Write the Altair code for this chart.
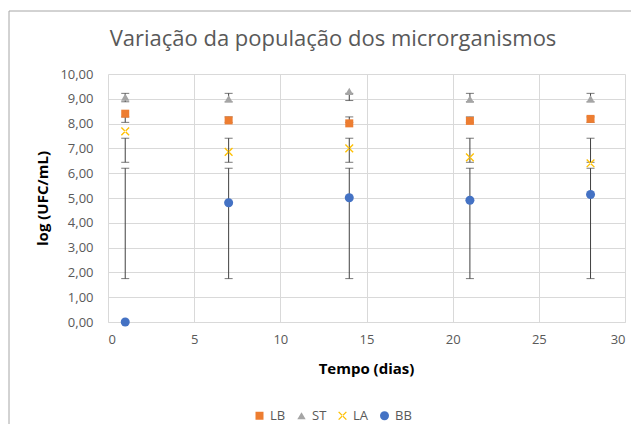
import altair as alt
import pandas as pd

# ---- data ----
days = [1, 7, 14, 21, 28]
series_names = ["LB", "ST", "LA", "BB"]
LB = [8.40, 8.13, 8.01, 8.11, 8.19]
ST = [9.07, 9.00, 9.30, 8.99, 9.00]
LA = [7.69, 6.86, 7.00, 6.64, 6.40]
BB = [0.00, 4.81, 5.01, 4.91, 5.14]

# error bar limits (low, high) per series
LB_lo = [8.05, 8.05, 8.05, 8.05, 8.05]
LB_hi = [8.27, 8.27, 8.27, 8.27, 8.27]
ST_lo = [8.88, 8.88, 8.93, 8.88, 8.88]
ST_hi = [9.22, 9.22, 9.22, 9.22, 9.22]
LA_lo = [6.44, 6.44, 6.44, 6.44, 6.44]
LA_hi = [7.41, 7.41, 7.41, 7.41, 7.41]
BB_lo = [1.75, 1.75, 1.75, 1.75, 1.75]
BB_hi = [6.20, 6.20, 6.20, 6.20, 6.20]

x_ticks = [0, 5, 10, 15, 20, 25, 30]
y_ticks = [0, 1, 2, 3, 4, 5, 6, 7, 8, 9, 10]

chart_title = "Variação da população dos microrganismos"

colors = ["#ED7D31", "#A5A5A5", "#FFC000", "#4472C4"]
XPATH = ("M-1,-0.78L-0.78,-1L1,0.78L0.78,1Z "
         "M1,-0.78L0.78,-1L-1,0.78L-0.78,1Z")
shapes = ["square", "triangle-up", XPATH, "circle"]
sizes = [64, 81, 100, 100]

vals = {"LB": LB, "ST": ST, "LA": LA, "BB": BB}
los = {"LB": LB_lo, "ST": ST_lo, "LA": LA_lo, "BB": BB_lo}
his = {"LB": LB_hi, "ST": ST_hi, "LA": LA_hi, "BB": BB_hi}

rows = []
for s in series_names:
    for i, d in enumerate(days):
        rows.append({"day": d, "series": s, "value": vals[s][i],
                     "lo": los[s][i], "hi": his[s][i]})
df = pd.DataFrame(rows)

label_color = "#595959"
grid_color = "#d9d9d9"
font = "Open Sans"

x_axis = alt.Axis(values=x_ticks, title="Tempo (dias)", grid=True,
                  gridColor=grid_color, domainColor=grid_color,
                  ticks=False, labelColor=label_color,
                  labelFontSize=13, labelFont=font, labelPadding=11,
                  labelOverlap=False,
                  titleFont=font, titleFontSize=15, titleFontWeight="bold",
                  titleColor="#000000", titleX=258, titleY=46,
                  titleBaseline="middle")
y_axis = alt.Axis(values=y_ticks, title="log (UFC/mL)", grid=True,
                  gridColor=grid_color, domain=False, ticks=False,
                  labelColor=label_color, labelFontSize=13, labelFont=font,
                  labelPadding=15, labelOverlap=False,
                  labelExpr="replace(format(datum.value, '.2f'), '.', ',')",
                  titleFont=font, titleFontSize=15, titleFontWeight="bold",
                  titleColor="#000000", titleAngle=-90, titleX=-66, titleY=124,
                  titleBaseline="middle", titleAlign="center")
x_scale = alt.Scale(domain=[0, 30], nice=False)
y_scale = alt.Scale(domain=[0, 10], nice=False)

X = alt.X("day:Q", scale=x_scale, axis=x_axis)

base = alt.Chart(df)
one = "datum.series == 'LB' && datum.day == 1"

frame = base.mark_rect(fillOpacity=0, stroke="#a6a6a6", strokeWidth=1).encode(
    x=alt.value(-99), x2=alt.value(540), y=alt.value(-63), y2=alt.value(420)
).transform_filter(one)

title = base.mark_text(font=font, fontSize=22, color=label_color,
                       align="center", baseline="alphabetic").encode(
    x=alt.value(225), y=alt.value(-28), text=alt.value(chart_title)
).transform_filter(one)

rules = base.mark_rule(color="#404040", strokeWidth=1).encode(
    x=X,
    y=alt.Y("lo:Q", scale=y_scale, axis=y_axis),
    y2="hi:Q",
)

caps = base.transform_fold(["lo", "hi"], as_=["end", "pos"]).mark_tick(
    orient="horizontal", size=8, thickness=1, color="#404040"
).encode(
    x=X,
    y=alt.Y("pos:Q", scale=y_scale, axis=y_axis),
)

points = base.mark_point(filled=True, opacity=1).encode(
    x=X,
    y=alt.Y("value:Q", scale=y_scale, axis=y_axis),
    color=alt.Color("series:N",
                    scale=alt.Scale(domain=series_names, range=colors),
                    legend=alt.Legend(title=None, orient="none", legendX=145,
                                      legendY=335, direction="horizontal",
                                      labelFont=font, labelFontSize=13,
                                      labelColor=label_color, symbolSize=64,
                                      columnPadding=9, labelOffset=4)),
    shape=alt.Shape("series:N",
                    scale=alt.Scale(domain=series_names, range=shapes),
                    legend=alt.Legend(title=None, orient="none", legendX=145,
                                      legendY=335, direction="horizontal")),
    size=alt.Size("series:N", scale=alt.Scale(domain=series_names, range=sizes),
                  legend=None),
)

chart = alt.layer(frame, title, rules, caps, points).properties(
    width=517,
    height=248,
    padding={"left": 100, "top": 66, "right": 6, "bottom": 102},
    autosize=alt.AutoSizeParams(type="none"),
).configure_view(stroke=None)

chart.save("out.html", embed_options={"renderer": "svg", "actions": False})
